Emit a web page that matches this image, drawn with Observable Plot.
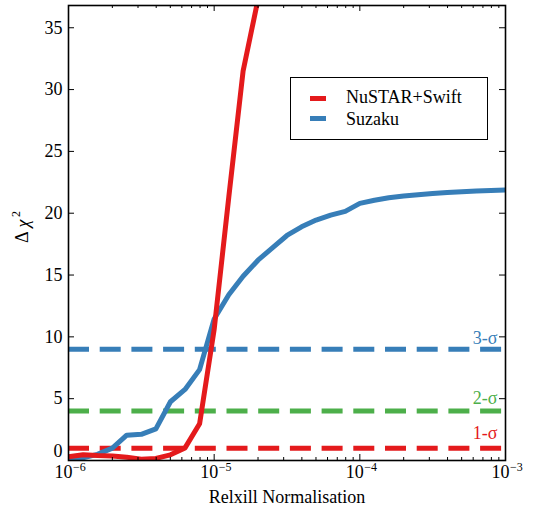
<!DOCTYPE html>
<html>
<head>
<meta charset="utf-8">
<script src="https://cdn.jsdelivr.net/npm/d3@7"></script>
<script src="https://cdn.jsdelivr.net/npm/@observablehq/plot@0.6"></script>
<style>
  body { margin: 0; background: #fff; }
  #wrap { position: relative; width: 533px; height: 514px; }
  #legend { position: absolute; left: 290px; top: 77px; width: 198px; height: 63px; box-sizing: border-box;
            border: 1px solid #000; background: #fff;
            font-family: "Liberation Serif", "Times New Roman", serif; font-size: 18px; color: #000; }
  #legend .sw { position: absolute; left: 19px; width: 16px; height: 5px; }
  #legend .lb { position: absolute; left: 55px; line-height: 1; white-space: nowrap; }
</style>
</head>
<body>
<div id="wrap"></div>
<script>
// ---- data ----
const normalisation = [1.00e-6, 1.26e-6, 1.58e-6, 2.00e-6, 2.51e-6, 3.16e-6, 3.98e-6, 5.01e-6, 6.31e-6, 7.94e-6,
                       1.00e-5, 1.26e-5, 1.58e-5, 2.00e-5, 2.51e-5, 3.16e-5, 3.98e-5, 5.01e-5, 6.31e-5, 7.94e-5,
                       1.00e-4, 1.26e-4, 1.58e-4, 2.00e-4, 2.51e-4, 3.16e-4, 3.98e-4, 5.01e-4, 6.31e-4, 7.94e-4, 1.00e-3];
const nustarSwift = [0.30, 0.46, 0.40, 0.37, 0.27, 0.10, 0.17, 0.46, 1.02, 2.97, 10.6, 21.3, 31.5, 37.3, 43.0];
const suzaku = [0.00, 0.22, 0.50, 1.00, 2.05, 2.12, 2.56, 4.75, 5.75, 7.35, 11.45, 13.4, 14.9, 16.2, 17.2, 18.2,
                18.9, 19.45, 19.85, 20.15, 20.8, 21.05, 21.25, 21.4, 21.5, 21.6, 21.68, 21.74, 21.8, 21.84, 21.88];
const seriesNames = ["NuSTAR+Swift", "Suzaku"];
const sigmaLevels = [1, 4, 9];
const sigmaLabels = ["1-σ", "2-σ", "3-σ"];
const sigmaLabelY = [2.2, 5.0, 9.9];
const yTicks = [0, 5, 10, 15, 20, 25, 30, 35];
const xMajor = [1e-6, 1e-5, 1e-4, 1e-3];
const xExponents = ["\u22126", "\u22125", "\u22124", "\u22123"];
const xLabel = "Relxill Normalisation";

// ---- styles ----
const RED = "#e41a1c", BLUE = "#377eb8", GREEN = "#4daf4a";
const sigmaColors = [RED, GREEN, BLUE];
const W = 533, H = 514, mL = 68, mR = 28, mT = 5, mB = 54;
const fw = W - mL - mR, fh = H - mT - mB;
const FONT = "'Liberation Serif', 'Times New Roman', serif";
const FS = 18;

const xMinor = d3.scaleLog().domain([1e-6, 1e-3]).ticks().filter(v => !xMajor.some(m => Math.abs(v / m - 1) < 1e-6));
const redData = nustarSwift.map((v, i) => ({x: normalisation[i], y: v}));
const blueData = suzaku.map((v, i) => ({x: normalisation[i], y: v}));
const sigmaData = sigmaLevels.map((v, i) => ({y: v, c: sigmaColors[i], t: sigmaLabels[i], ly: sigmaLabelY[i]}));

const chart = Plot.plot({
  width: W, height: H,
  marginLeft: mL, marginRight: mR, marginTop: mT, marginBottom: mB,
  style: {background: "#fff", fontFamily: FONT, fontSize: FS + "px", color: "#000"},
  x: {type: "log", domain: [1e-6, 1e-3], axis: null},
  y: {domain: [0, 36.8], axis: null},
  color: {type: "identity"},
  marks: [
    Plot.ruleY(sigmaData, {y: "y", stroke: "c", strokeWidth: 5, strokeDasharray: "21,10.7"}),
    Plot.text(sigmaData, {x: () => 1e-3, y: "ly", text: "t", fill: "c", textAnchor: "end", dx: -8, fontSize: FS}),
    Plot.line(blueData, {x: "x", y: "y", stroke: BLUE, strokeWidth: 5, strokeLinejoin: "round", clip: true}),
    Plot.line(redData, {x: "x", y: "y", stroke: RED, strokeWidth: 5, strokeLinejoin: "round", clip: true}),
    // ticks (inward on all four sides)
    Plot.ruleX(xMajor, {x: d => d, insetTop: fh - 6, stroke: "#000", strokeWidth: 1}),
    Plot.ruleX(xMajor, {x: d => d, insetBottom: fh - 6, stroke: "#000", strokeWidth: 1}),
    Plot.ruleX(xMinor, {x: d => d, insetTop: fh - 3, stroke: "#000", strokeWidth: 1}),
    Plot.ruleX(xMinor, {x: d => d, insetBottom: fh - 3, stroke: "#000", strokeWidth: 1}),
    Plot.ruleY(yTicks, {y: d => d, insetRight: fw - 6, stroke: "#000", strokeWidth: 1}),
    Plot.ruleY(yTicks, {y: d => d, insetLeft: fw - 6, stroke: "#000", strokeWidth: 1}),
    Plot.frame({stroke: "#000", strokeWidth: 1.6}),
    // tick labels
    Plot.text(yTicks, {y: d => d, frameAnchor: "left", text: d => String(d), textAnchor: "end", dx: -6, fontSize: FS}),
    Plot.text(xMajor, {x: d => d, frameAnchor: "bottom", text: () => "10", textAnchor: "end", dx: 4, dy: 17.5, fontSize: FS}),
    Plot.text(xMajor, {x: d => d, frameAnchor: "bottom", text: (d, i) => xExponents[i], textAnchor: "start", dx: 4.5, dy: 10, fontSize: 12}),
    // axis labels
    Plot.text([xLabel], {frameAnchor: "bottom", text: d => d, dy: 42.5, fontSize: FS}),
    Plot.text(["Δ"], {frameAnchor: "left", text: d => d, rotate: -90, dx: -46, dy: 10, fontSize: FS}),
    Plot.text(["χ"], {frameAnchor: "left", text: d => d, rotate: -90, dx: -45, dy: -5.5, fontSize: FS, fontStyle: "italic"}),
    Plot.text(["2"], {frameAnchor: "left", text: d => d, rotate: -90, dx: -52, dy: -16, fontSize: 12})
  ]
});

const wrap = document.getElementById("wrap");
wrap.appendChild(chart);
// nudge the "0" y label up slightly as in the reference
d3.select(chart).selectAll("text").filter(function() { return this.textContent === "0"; })
  .attr("y", function() { return (+this.getAttribute("y") || 0) - 4; });

// legend (inside the plot area, top right)
const legend = document.createElement("div");
legend.id = "legend";
const legendColors = [RED, BLUE];
const swTop = [17.5, 38.2], lbTop = [10.2, 31.9];
seriesNames.forEach((name, i) => {
  const sw = document.createElement("span");
  sw.className = "sw"; sw.style.top = swTop[i] + "px"; sw.style.background = legendColors[i];
  const lb = document.createElement("span");
  lb.className = "lb"; lb.style.top = lbTop[i] + "px"; lb.textContent = name;
  legend.appendChild(sw); legend.appendChild(lb);
});
wrap.appendChild(legend);
</script>
</body>
</html>
